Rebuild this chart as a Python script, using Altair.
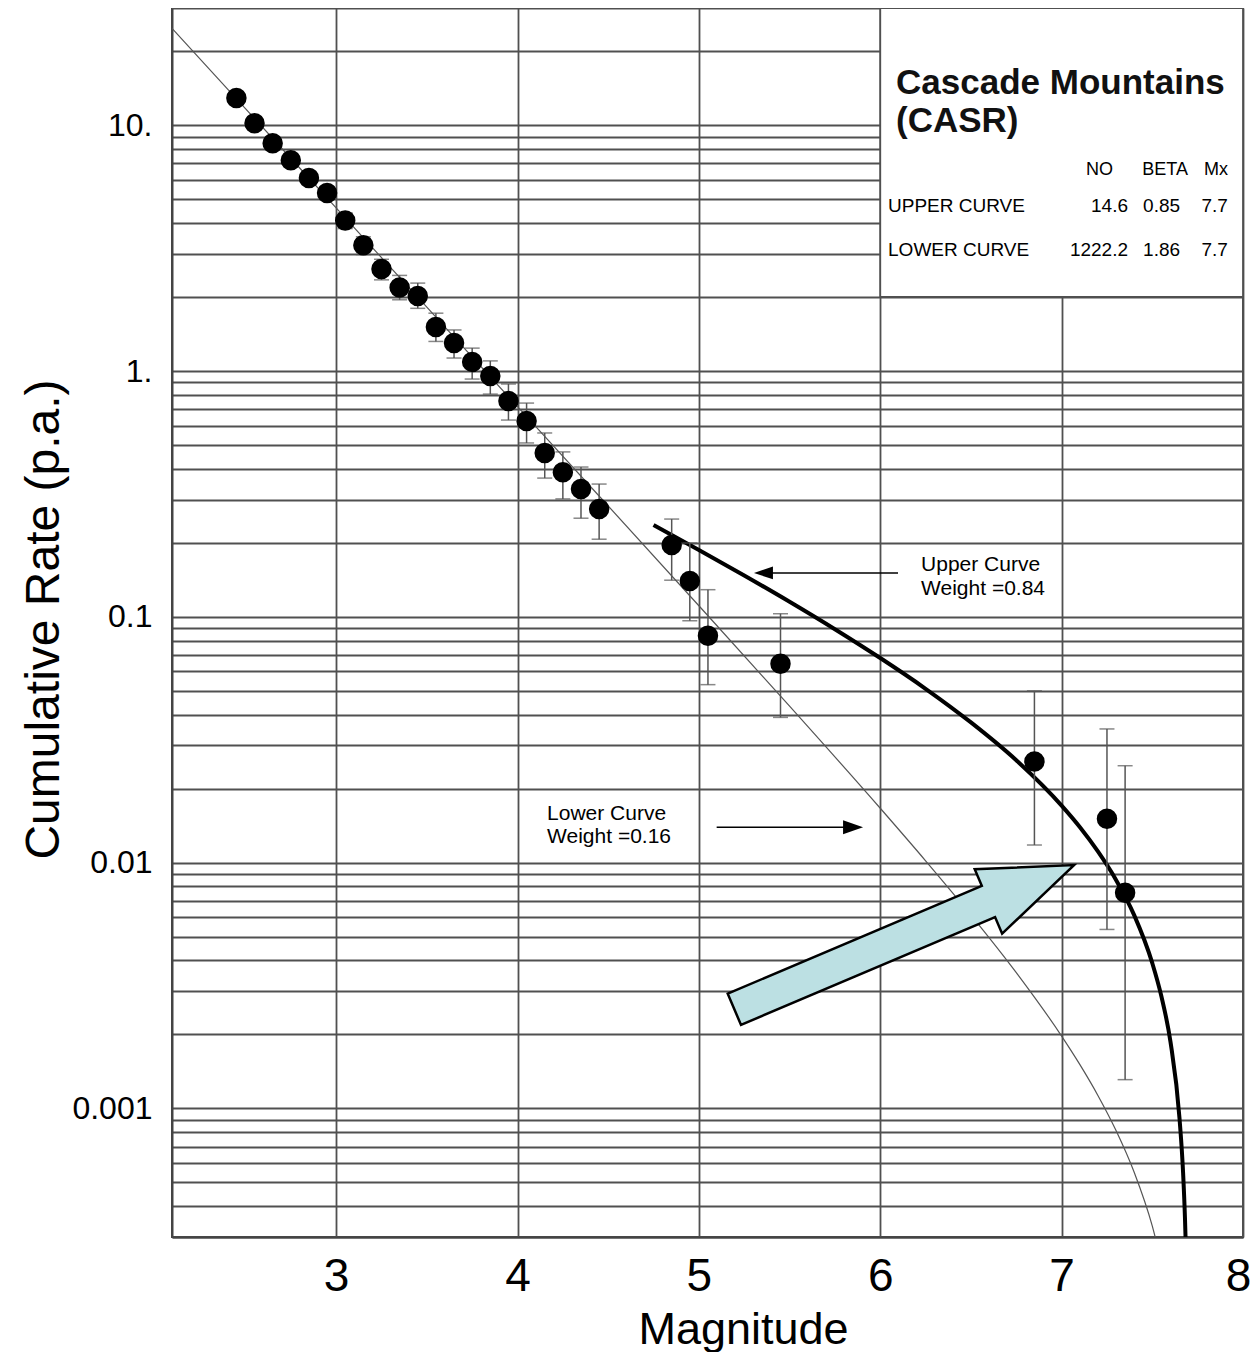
import altair as alt
import pandas as pd

# ---------------- data ----------------
magnitude = [2.45, 2.55, 2.65, 2.75, 2.85, 2.95, 3.05, 3.15, 3.25, 3.35, 3.45, 3.55, 3.65, 3.75,
             3.85, 3.95, 4.05, 4.15, 4.25, 4.35, 4.45, 4.85, 4.95, 5.05, 5.45, 6.85, 7.25, 7.35]
rate = [12.9, 10.2, 8.45, 7.2, 6.1, 5.3, 4.1, 3.25, 2.6, 2.19, 2.02, 1.51, 1.30, 1.09,
        0.955, 0.755, 0.626, 0.464, 0.388, 0.331, 0.275, 0.196, 0.140, 0.0837, 0.0644, 0.0258, 0.0151, 0.00755]
rate_hi = [13.4, 10.6, 8.8, 7.5, 6.4, 5.6, 4.4, 3.52, 2.85, 2.45, 2.28, 1.72, 1.47, 1.24,
           1.10, 0.886, 0.741, 0.560, 0.469, 0.407, 0.347, 0.250, 0.200, 0.129, 0.103, 0.050, 0.035, 0.0248]
rate_lo = [12.4, 9.8, 8.1, 6.9, 5.8, 5.0, 3.8, 2.98, 2.35, 1.95, 1.80, 1.32, 1.13, 0.928,
           0.806, 0.632, 0.510, 0.367, 0.302, 0.252, 0.207, 0.141, 0.0964, 0.053, 0.039, 0.0118, 0.00535, 0.00131]

lower_mag = [2.095, 2.5, 3.0, 3.5, 4.0, 4.5, 5.0, 5.5, 6.0, 6.25, 6.5, 6.75, 7.0, 7.1, 7.2, 7.3, 7.4, 7.5, 7.55]
lower_rate = [24.8, 11.69, 4.609, 1.819, 0.717, 0.2826, 0.1110, 0.04334, 0.01665, 0.01018, 0.006123,
              0.003572, 0.001970, 0.001511, 0.001130, 0.000813, 0.000550, 0.000332, 0.000237]

upper_mag = [4.75, 5.0, 5.25, 5.5, 5.75, 6.0, 6.25, 6.5, 6.75, 7.0, 7.1, 7.2, 7.3, 7.4, 7.5, 7.55,
             7.6, 7.65, 7.67, 7.68, 7.685]
upper_rate = [0.2367, 0.1873, 0.1474, 0.1152, 0.0891, 0.0680, 0.0510, 0.0372, 0.0261, 0.01707, 0.01397,
              0.01111, 0.00851, 0.00612, 0.00390, 0.00286, 0.00187, 0.000911, 0.000542, 0.000359, 0.000269]

x_ticks = [3, 4, 5, 6, 7, 8]
y_grid = [0.0003, 0.0004, 0.0005, 0.0006, 0.0007, 0.0008, 0.0009,
          0.001, 0.002, 0.003, 0.004, 0.005, 0.006, 0.007, 0.008, 0.009,
          0.01, 0.02, 0.03, 0.04, 0.05, 0.06, 0.07, 0.08, 0.09,
          0.1, 0.2, 0.3, 0.4, 0.5, 0.6, 0.7, 0.8, 0.9,
          1, 2, 3, 4, 5, 6, 7, 8, 9, 10, 20, 30]
y_label_values = [10, 1, 0.1, 0.01, 0.001]
y_label_texts = ["10.", "1.", "0.1", "0.01", "0.001"]

title_lines = ["Cascade Mountains", "(CASR)"]
table_headers = ["NO", "BETA", "Mx"]
table_rows = ["UPPER CURVE", "LOWER CURVE"]
table_values = [["14.6", "0.85", "7.7"], ["1222.2", "1.86", "7.7"]]
upper_note = ["Upper Curve", "Weight =0.84"]
lower_note = ["Lower Curve", "Weight =0.16"]

# ---------------- styling ----------------
FONT = "Liberation Sans"
GRID = "#505050"
W, H = 1071, 1229
xs = alt.Scale(domain=[2.095, 8], nice=False, zero=False)
ys = alt.Scale(type="log", domain=[0.0003, 30], nice=False)

label_expr = " : ".join(
    f"datum.value == {v} ? '{t}'" for v, t in zip(y_label_values, y_label_texts)
) + " : ''"

x_axis = alt.Axis(values=x_ticks, format="d", title="Magnitude", grid=True, gridColor=GRID,
                  gridWidth=1.8, gridOpacity=1, ticks=False, labelFont=FONT, labelFontSize=46,
                  labelColor="black", labelPadding=17, labelFlush=False, labelOverlap=False,
                  labelOffset=alt.condition("datum.value == 8", alt.value(-5), alt.value(0)),
                  titleFont=FONT, titleFontSize=45, titleFontWeight="normal", titleColor="black",
                  titleX=571, titleY=106, titleAlign="center", titleBaseline="alphabetic",
                  domainColor="#444", domainWidth=2)
y_axis = alt.Axis(values=y_grid, labelExpr=label_expr, title="Cumulative Rate (p.a.)", grid=True,
                  gridColor=GRID, gridWidth=1.8, gridOpacity=1, ticks=False, labelFont=FONT,
                  labelFontSize=32, labelColor="black", labelPadding=20, labelOverlap=False,
                  labelFlush=False, titleFont=FONT, titleFontSize=48, titleFontWeight="normal",
                  titleColor="black", titleAngle=270, titleX=-114, titleY=611, titleAlign="center",
                  titleBaseline="alphabetic", domainColor="#444", domainWidth=2)


def X(field):
    return alt.X(field, type="quantitative", scale=xs, axis=x_axis)


def Y(field):
    return alt.Y(field, type="quantitative", scale=ys, axis=y_axis)


# ---------------- layers ----------------
box = pd.DataFrame({"x": [6.0], "x2": [8.0], "y": [2.0], "y2": [30.0]})
bg = alt.Chart(box).mark_rect(color="white", opacity=1).encode(
    x=X("x"), x2="x2:Q", y=Y("y"), y2="y2:Q")

vfix = pd.DataFrame({"x": [6.0, 8.0], "y": [2.0, 0.0003], "y2": [30.0, 30.0]})
vrules = alt.Chart(vfix).mark_rule(color=GRID, strokeWidth=1.8).encode(
    x=X("x"), y=Y("y"), y2="y2:Q")
hfix = pd.DataFrame({"y": [2.0, 30.0], "x": [6.0, 2.095], "x2": [8.0, 8.0]})
hrules = alt.Chart(hfix).mark_rule(color=GRID, strokeWidth=2).encode(
    y=Y("y"), x=X("x"), x2="x2:Q")

lower_df = pd.DataFrame({"m": lower_mag, "r": lower_rate})
lower_line = alt.Chart(lower_df).mark_line(color="#555", strokeWidth=1.2, clip=True,
                                          interpolate="monotone").encode(x=X("m"), y=Y("r"))

upper_df = pd.DataFrame({"m": upper_mag, "r": upper_rate})
upper_line = alt.Chart(upper_df).mark_line(color="black", strokeWidth=4, clip=True,
                                          interpolate="monotone").encode(x=X("m"), y=Y("r"))

obs = pd.DataFrame({"m": magnitude, "r": rate, "hi": rate_hi, "lo": rate_lo})
bars = alt.Chart(obs).mark_rule(color="#555", strokeWidth=1.5).encode(
    x=X("m"), y=Y("lo"), y2="hi:Q")
cap_hi = alt.Chart(obs).mark_tick(color="#555", orient="horizontal", size=15, thickness=1.5).encode(
    x=X("m"), y=Y("hi"))
cap_lo = alt.Chart(obs).mark_tick(color="#555", orient="horizontal", size=15, thickness=1.5).encode(
    x=X("m"), y=Y("lo"))
dots = alt.Chart(obs).mark_circle(color="black", size=420, opacity=1).encode(x=X("m"), y=Y("r"))

# big light-blue arrow (custom symbol, rotated)
ARROW = "M -1 -0.092 L 0.496 -0.092 L 0.496 -0.19 L 1 0 L 0.496 0.19 L 0.496 0.092 L -1 0.092 Z"
big = pd.DataFrame({"x": [6.132], "y": [0.004976]})
big_arrow = alt.Chart(big).mark_point(shape=ARROW, size=136161, angle=337, filled=True,
                                      fill="#BCE0E3", stroke="black", strokeWidth=2.5,
                                      opacity=1, fillOpacity=1, strokeOpacity=1).encode(
    x=X("x"), y=Y("y"))

# small pointer arrows
ptr = pd.DataFrame({"x": [5.356, 5.098], "x2": [6.098, 5.850], "y": [0.1509, 0.01393]})
ptr_lines = alt.Chart(ptr).mark_rule(color="black", strokeWidth=1.5).encode(
    x=X("x"), x2="x2:Q", y=Y("y"))
head_left = alt.Chart(pd.DataFrame({"x": [5.356], "y": [0.1509]})).mark_point(
    shape="M 1 -0.67 L -1 0 L 1 0.67 Z", size=361, filled=True, color="black", opacity=1).encode(
    x=X("x"), y=Y("y"))
head_right = alt.Chart(pd.DataFrame({"x": [5.850], "y": [0.01393]})).mark_point(
    shape="M -1 -0.7 L 1 0 L -1 0.7 Z", size=400, filled=True, color="black", opacity=1).encode(
    x=X("x"), y=Y("y"))

notes = pd.DataFrame({
    "x": [6.225, 6.225, 4.163, 4.163],
    "y": [0.1537, 0.1227, 0.01492, 0.01202],
    "t": upper_note + lower_note,
})
note_text = alt.Chart(notes).mark_text(font=FONT, fontSize=21, align="left", baseline="alphabetic",
                                       color="black").encode(x=X("x"), y=Y("y"), text="t:N")

# legend box texts
title_df = pd.DataFrame({"x": [6.087, 6.087], "y": [13.4, 9.4], "t": title_lines})
title_text = alt.Chart(title_df).mark_text(font=FONT, fontSize=35, fontWeight="bold", align="left",
                                           baseline="alphabetic", color="#111").encode(
    x=X("x"), y=Y("y"), text="t:N")

hdr_df = pd.DataFrame({"x": [7.283, 7.697, 7.917], "y": [6.277] * 3, "t": table_headers})
row_df = pd.DataFrame({"x": [6.043, 6.043], "y": [4.451, 2.939], "t": table_rows})
val_df = pd.DataFrame({
    "x": [7.366, 7.653, 7.917, 7.366, 7.653, 7.917],
    "y": [4.451] * 3 + [2.939] * 3,
    "t": table_values[0] + table_values[1],
})
hdr_text = alt.Chart(hdr_df).mark_text(font=FONT, fontSize=18, align="right", baseline="alphabetic",
                                       color="black").encode(x=X("x"), y=Y("y"), text="t:N")
row_text = alt.Chart(row_df).mark_text(font=FONT, fontSize=19, align="left", baseline="alphabetic",
                                       color="black").encode(x=X("x"), y=Y("y"), text="t:N")
val_text = alt.Chart(val_df).mark_text(font=FONT, fontSize=19, align="right", baseline="alphabetic",
                                       color="black").encode(x=X("x"), y=Y("y"), text="t:N")

chart = alt.layer(
    bg, vrules, hrules, lower_line, upper_line, bars, cap_hi, cap_lo, dots, big_arrow,
    ptr_lines, head_left, head_right, note_text, title_text, hdr_text, row_text, val_text,
).properties(
    width=W, height=H,
    autosize=alt.AutoSizeParams(type="none"),
    padding={"left": 164, "top": 0, "right": 8, "bottom": 115},
).configure_view(stroke="#444", strokeWidth=2)

chart.save("out.html", embed_options={"renderer": "svg", "actions": False})
